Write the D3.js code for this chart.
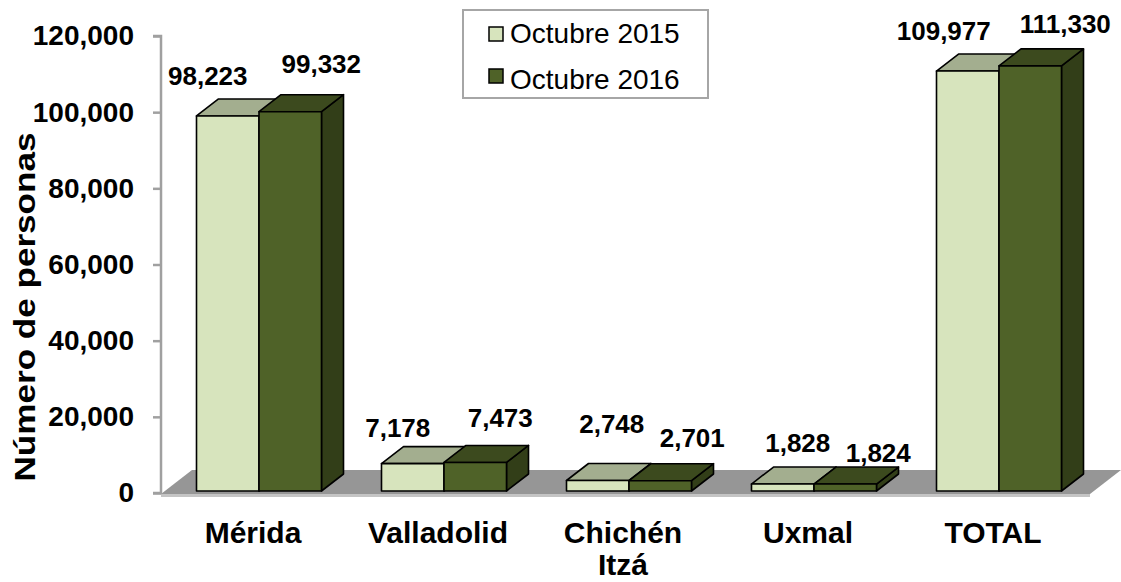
<!DOCTYPE html>
<html>
<head>
<meta charset="utf-8">
<script src="https://cdn.jsdelivr.net/npm/d3@7"></script>
<style>
  html, body { margin: 0; padding: 0; background: #fff; }
  svg { display: block; font-family: "Liberation Sans", Arial, sans-serif; }
</style>
</head>
<body>
<svg id="chart" width="1121" height="582"></svg>
<script>
// ---- data ----
const categories = ["Mérida", "Valladolid", "Chichén Itzá", "Uxmal", "TOTAL"];
const seriesNames = ["Octubre 2015", "Octubre 2016"];
const values2015 = [98223, 7178, 2748, 1828, 109977];
const values2016 = [99332, 7473, 2701, 1824, 111330];
const yTicks = [0, 20000, 40000, 60000, 80000, 100000, 120000];
const yTitle = "Número de personas";

// ---- styles ----
const colors = [
  { front: "#d7e4bd", top: "#a3ae8f", side: "#8f9a7c" },
  { front: "#4f6228", top: "#3c4a1e", side: "#323e18" }
];
// small per-label nudges (px) relative to the default label placement
const labelNudge = [
  [[-20, 2], [-15, 6], [14, -15], [15, 1], [-24, 2]],
  [[0, -4], [-6, -1], [1, 1], [2, 13], [4, 2]]
];

const svg = d3.select("#chart");
const fmt = d3.format(",");

const axisX = 161;
const y = d3.scaleLinear().domain([0, 120000]).range([493, 36]);
const yBar = d3.scaleLinear().domain([0, 120000]).range([491, 32.8]);
const x = d3.scaleBand().domain(categories).range([166.5, 1091.5]).padding(0);
const barW = 62.5;
const dx = 22, dy = 17;

// floor
const floorFront = 494, floorBack = 470;
svg.append("polygon")
  .attr("points", [[axisX, floorFront], [axisX + 31, floorBack], [1121, floorBack], [1090, floorFront]].join(" "))
  .attr("fill", "#969696");
svg.append("rect")
  .attr("x", axisX).attr("y", floorFront).attr("width", 1090 - axisX).attr("height", 3)
  .attr("fill", "#c4c4c4");

// y axis
const yAxis = d3.axisLeft(y).tickValues(yTicks).tickFormat(fmt).tickSize(8).tickPadding(19);
const gy = svg.append("g").attr("transform", `translate(${axisX},0)`).call(yAxis);
gy.select(".domain").attr("stroke", "#a0a0a0").attr("stroke-width", 2.5)
  .attr("d", `M-8,${y(120000)}H0V${y(0)}H-8`);
gy.selectAll(".tick line").attr("stroke", "#a0a0a0").attr("stroke-width", 2.5);
gy.selectAll(".tick text")
  .attr("font-size", 28).attr("font-weight", "bold").attr("fill", "#000")
  .attr("font-family", "Liberation Sans, Arial, sans-serif");

// y title
svg.append("text")
  .attr("transform", `translate(35,307) rotate(-90)`)
  .attr("text-anchor", "middle")
  .attr("font-size", 30).attr("font-weight", "bold")
  .attr("textLength", 349).attr("lengthAdjust", "spacingAndGlyphs")
  .text(yTitle);

// bars
const series = [values2015, values2016];
const bars = svg.append("g");
categories.forEach((cat, i) => {
  const c = x(cat) + x.bandwidth() / 2;
  series.forEach((vals, s) => {
    const x0 = c - barW + s * barW, x1 = x0 + barW;
    const yt = yBar(vals[i]), yb = yBar(0);
    const g = bars.append("g").attr("stroke", "#000").attr("stroke-width", 1.6).attr("stroke-linejoin", "round");
    g.append("polygon") // side
      .attr("points", [[x1, yb], [x1, yt], [x1 + dx, yt - dy], [x1 + dx, yb - dy]].join(" "))
      .attr("fill", colors[s].side);
    g.append("polygon") // top
      .attr("points", [[x0, yt], [x1, yt], [x1 + dx, yt - dy], [x0 + dx, yt - dy]].join(" "))
      .attr("fill", colors[s].top);
    g.append("rect") // front
      .attr("x", x0).attr("y", yt).attr("width", barW).attr("height", yb - yt)
      .attr("fill", colors[s].front);
  });
});

// value labels
categories.forEach((cat, i) => {
  const c = x(cat) + x.bandwidth() / 2;
  series.forEach((vals, s) => {
    const fc = c - barW / 2 + s * barW;
    const [nx, ny] = labelNudge[s][i];
    const lx = (s === 0 ? fc : fc + 31) + nx;
    const ly = yBar(vals[i]) - (s === 0 ? 42 : 44) + ny;
    svg.append("text")
      .attr("x", lx).attr("y", ly).attr("dy", "0.35em")
      .attr("text-anchor", "middle")
      .attr("font-size", 26).attr("font-weight", "bold")
      .text(fmt(vals[i]));
  });
});

// category labels
categories.forEach((cat) => {
  const c = x(cat) + x.bandwidth() / 2 - 6;
  const words = cat === "Chichén Itzá" ? ["Chichén", "Itzá"] : [cat];
  const t = svg.append("text")
    .attr("x", c).attr("y", 543).attr("text-anchor", "middle")
    .attr("font-size", 30).attr("font-weight", "bold");
  words.forEach((w, k) => {
    t.append("tspan").attr("x", c).attr("dy", k === 0 ? 0 : 32).text(w);
  });
});

// legend
const lg = svg.append("g");
lg.append("rect").attr("x", 463).attr("y", 10).attr("width", 245).attr("height", 88)
  .attr("fill", "#fff").attr("stroke", "#a6a6a6").attr("stroke-width", 2);
seriesNames.forEach((n, s) => {
  const yy = [27, 69][s];
  lg.append("rect").attr("x", 489).attr("y", yy).attr("width", 14).attr("height", 14)
    .attr("fill", colors[s].front).attr("stroke", "#000").attr("stroke-width", 1.5);
  lg.append("text").attr("x", 510).attr("y", [43, 89][s])
    .attr("font-size", 28).text(n);
});
</script>
</body>
</html>
